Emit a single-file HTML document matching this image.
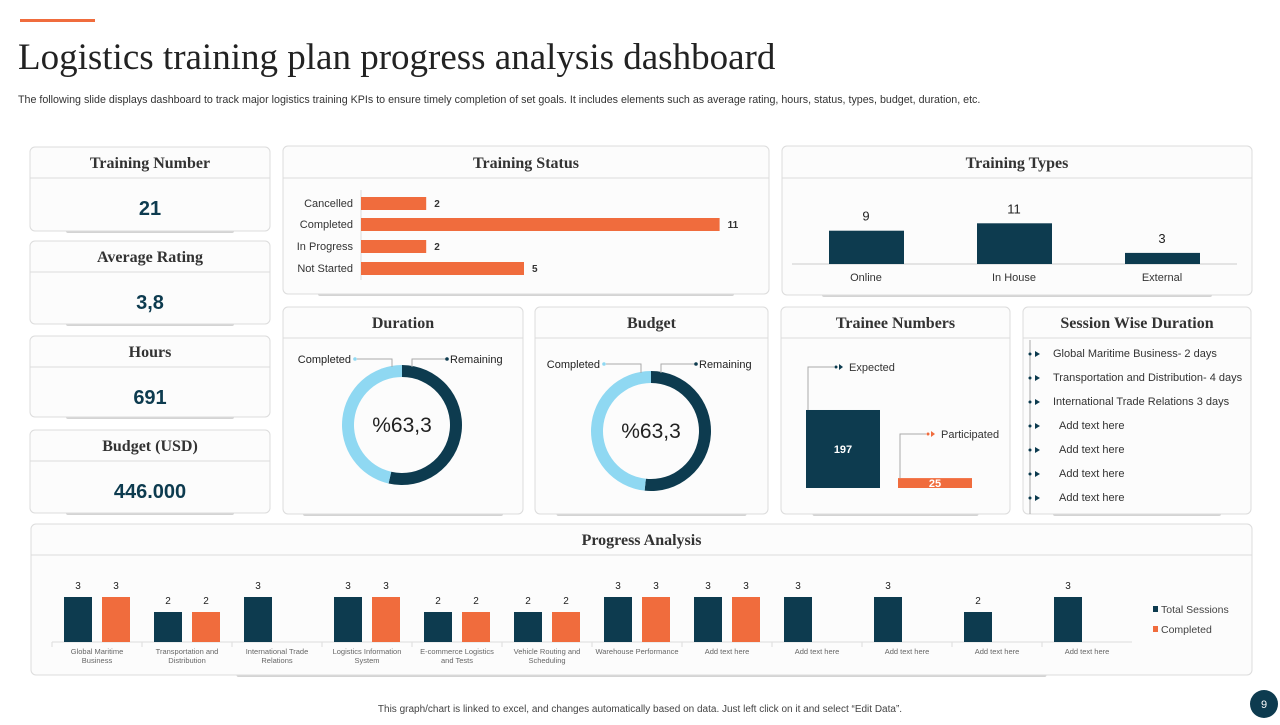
<!DOCTYPE html>
<html><head><meta charset="utf-8"><style>
html,body{margin:0;padding:0;background:#fff;}
body{width:1280px;height:720px;overflow:hidden;position:relative;font-family:"Liberation Sans",sans-serif;}
svg text{font-family:"Liberation Sans",sans-serif;}
svg text.serif{font-family:"Liberation Serif",serif;}
</style></head><body>
<svg id="s" width="1280" height="720" viewBox="0 0 1280 720" xmlns="http://www.w3.org/2000/svg">
<rect x="20" y="19" width="75" height="3" fill="#f06c3d"/>
<text x="18" y="69" class="serif" font-size="37" fill="#222">Logistics training plan progress analysis dashboard</text>
<text x="18" y="103" font-size="10.7" fill="#333">The following slide displays dashboard to track major logistics training KPIs to ensure timely  completion  of set goals. It includes elements  such as average rating, hours, status, types, budget, duration, etc.</text>
<g id="cards"></g>
<g id="charts"></g>
<text x="640" y="712" text-anchor="middle" font-size="10" fill="#444">This graph/chart is linked to excel, and changes automatically based on data. Just left click on it and select “Edit Data”.</text>
<circle cx="1264" cy="704" r="14" fill="#0d3b4f"/>
<text x="1264" y="708" text-anchor="middle" font-size="11" fill="#fff">9</text>
</svg>
<script>
const NS="http://www.w3.org/2000/svg";
const svg=document.getElementById('s');
const navy="#0d3b4f", orange="#f06c3d", light="#8fd8f2";
function mk(tag,attrs,parent,txt){const e=document.createElementNS(NS,tag);for(const k in attrs)e.setAttribute(k,attrs[k]);if(txt!==undefined)e.textContent=txt;(parent||svg).appendChild(e);return e;}

// Data
const kpiLabels=["Training  Number","Average Rating","Hours","Budget (USD)"];
const kpiValues=["21","3,8","691","446.000"];
const statusCats=["Cancelled","Completed","In Progress","Not Started"];
const statusVals=[2,11,2,5];
const typeCats=["Online","In House","External"];
const typeVals=[9,11,3];
const durationVals=[46.4,53.6];
const budgetVals=[48.3,51.7];
const traineeCats=["Expected","Participated"];
const traineeVals=[197,25];
const sessionItems=["Global Maritime  Business- 2 days","Transportation and Distribution- 4 days","International Trade Relations  3 days","  Add text here","  Add text here","  Add text here","  Add text here"];
const progCats=[["Global Maritime","Business"],["Transportation and","Distribution"],["International Trade","Relations"],["Logistics Information","System"],["E-commerce Logistics","and Tests"],["Vehicle Routing and","Scheduling"],["Warehouse Performance",""],["Add text here",""],["Add text here",""],["Add text here",""],["Add text here",""],["Add text here",""]];
const progTotal=[3,2,3,3,2,2,3,3,3,3,2,3];
const progDone=[3,2,null,3,2,2,3,3,null,null,null,null];

function card(x,y,w,h,hy,title,name,shadowW){
  const g=mk('g',{},svg);
  
  
  const sw=shadowW||w*0.7;
  mk('rect',{x:x+(w-sw)/2,y:y+h-2,width:sw,height:4,rx:2,fill:"#d4d4d4"},g);
  mk('rect',{x:x,y:y,width:w,height:h,rx:5,fill:"#fcfcfc",stroke:"#dcdcdc"},g);
  mk('line',{x1:x,x2:x+w,y1:hy,y2:hy,stroke:"#dcdcdc"},g);
  const t=mk('text',{x:x+w/2,y:hy-10,"text-anchor":"middle","font-size":16,"font-weight":"bold",fill:"#333",style:"font-family:'Liberation Serif',serif"},g,title);
  
  
  return g;
}
// KPI cards
const kpiY=[147,241,336,430];const kpiH=[84,83,81,83];
kpiLabels.forEach((l,i)=>{
  const g=card(30,kpiY[i],240,kpiH[i],kpiY[i]+31,l,'kpi-card-'+(i+1),168);
  const v=mk('text',{x:150,y:kpiY[i]+68,"text-anchor":"middle","font-size":20,"font-weight":"bold",fill:"#0d3b4f"},g,kpiValues[i]);
  
  
});

// Training status
{const g=card(283,146,486,148,178,"Training  Status","training-status-card",416);
 const x0=361,xs=v=>x0+v*32.6,ys=[197,218,240,262];
 mk('line',{x1:x0,x2:x0,y1:190,y2:280,stroke:"#ddd"},g);
 statusCats.forEach((c,i)=>{
  const t=mk('text',{x:353,y:ys[i]+10,"text-anchor":"end","font-size":11,fill:"#333"},g,c);
  
  
  const r=mk('rect',{x:x0,y:ys[i],width:xs(statusVals[i])-x0,height:13,fill:orange},g);
  
  
  const vt=mk('text',{x:xs(statusVals[i])+8,y:ys[i]+10,"font-size":10,"font-weight":"bold",fill:"#333"},g,statusVals[i]);
  
  
 });}

// Training types
{const g=card(782,146,470,149,178,"Training  Types","training-types-card",390);
 const base=264,ys=v=>base-v*3.7,cx=[866,1014,1162];
 mk('line',{x1:792,x2:1237,y1:base,y2:base,stroke:"#ccc"},g);
 typeCats.forEach((c,i)=>{
  const r=mk('rect',{x:cx[i]-37,y:ys(typeVals[i]),width:75,height:base-ys(typeVals[i]),fill:navy},g);
  
  
  const vt=mk('text',{x:cx[i],y:ys(typeVals[i])-10,"text-anchor":"middle","font-size":13,fill:"#222"},g,typeVals[i]);
  
  
  const t=mk('text',{x:cx[i],y:281,"text-anchor":"middle","font-size":11,fill:"#333"},g,c);
  
  
 });}

function donut(g,cx,cy,vals,lblY){
  const R=60,r=48,tot=vals[0]+vals[1];
  let a0=0;
  const order=[[vals[1],navy,'donut-remaining'],[vals[0],light,'donut-completed']];
  order.forEach(([v,col,nm])=>{
    const a1=a0+v/tot*2*Math.PI;
    const p=(a,rr)=>[cx+rr*Math.sin(a),cy-rr*Math.cos(a)];
    const large=(a1-a0)>Math.PI?1:0;
    const [x1,y1]=p(a0,R),[x2,y2]=p(a1,R),[x3,y3]=p(a1,r),[x4,y4]=p(a0,r);
    const path=mk('path',{d:`M${x1},${y1}A${R},${R} 0 ${large} 1 ${x2},${y2}L${x3},${y3}A${r},${r} 0 ${large} 0 ${x4},${y4}Z`,fill:col},g);
    
    
    a0=a1;
  });
  const t=mk('text',{x:cx,y:cy+7,"text-anchor":"middle","font-size":21,fill:"#222"},g,"%63,3");
  
  
  mk('polyline',{points:`${cx-10},${cy-R+2} ${cx-10},${lblY-4} ${cx-45},${lblY-4}`,fill:"none",stroke:"#aaa"},g);
  mk('polyline',{points:`${cx+10},${cy-R+2} ${cx+10},${lblY-4} ${cx+45},${lblY-4}`,fill:"none",stroke:"#aaa"},g);
  mk('circle',{cx:cx+45,cy:lblY-4,r:1.8,fill:navy},g);
  mk('circle',{cx:cx-47,cy:lblY-4,r:1.8,fill:light},g);
  const a=mk('text',{x:cx-51,y:lblY,"text-anchor":"end","font-size":11,fill:"#222"},g,"Completed");
  
  
  const b=mk('text',{x:cx+48,y:lblY,"font-size":11,fill:"#222"},g,"Remaining");
  
  
}
{const g=card(283,307,240,207,338,"Duration","duration-card",200);donut(g,402,425,durationVals,363);}
{const g=card(535,307,233,207,338,"Budget","budget-card",190);donut(g,651,431,budgetVals,368);}

// Trainee numbers
{const g=card(781,307,229,207,338,"Trainee Numbers","trainee-numbers-card",166);
 const base=488,ys=v=>base-v*0.396,xs=[806,898],cols=[navy,orange],ly=[367,434];
 traineeCats.forEach((c,i)=>{
  const r=mk('rect',{x:xs[i],y:ys(traineeVals[i]),width:74,height:base-ys(traineeVals[i]),fill:cols[i]},g);
  
  
  const top=ys(traineeVals[i]);
  const vt=mk('text',{x:xs[i]+37,y:i==0?(top+base)/2+4:base-1,"text-anchor":"middle","font-size":11,"font-weight":"bold",fill:"#fff"},g,traineeVals[i]);
  
  
  mk('polyline',{points:`${xs[i]+2},${top} ${xs[i]+2},${ly[i]} ${xs[i]+28},${ly[i]}`,fill:"none",stroke:"#aaa"},g);
  mk('circle',{cx:xs[i]+30,cy:ly[i],r:1.5,fill:cols[i]},g);
  mk('path',{d:`M${xs[i]+33},${ly[i]-3}L${xs[i]+37},${ly[i]}L${xs[i]+33},${ly[i]+3}Z`,fill:cols[i]},g);
  const t=mk('text',{x:xs[i]+43,y:ly[i]+4,"font-size":11,fill:"#333"},g,c);
  
  
 });}

// Session wise
{const g=card(1023,307,228,207,338,"Session Wise Duration","session-duration-card",168);
 mk('line',{x1:1030,x2:1030,y1:340,y2:514,stroke:"#aaa"},g);
 sessionItems.forEach((s,i)=>{
  const y=353+i*24;
  mk('circle',{cx:1030,cy:y+1,r:1.5,fill:navy},g);
  mk('path',{d:`M1035,${y-2}L1040,${y+1}L1035,${y+4}Z`,fill:navy},g);
  const t=mk('text',{x:s.startsWith(' ')?1059:1053,y:y+4,"font-size":11,fill:"#333"},g,s.trim());
  
  
 });}

// Progress analysis
{const g=card(31,524,1221,151,555,"Progress Analysis","progress-analysis-card",810);
 const base=642,ys=v=>base-v*15,cx=i=>97+i*90;
 mk('line',{x1:52,x2:1132,y1:base,y2:base,stroke:"#ddd"},g);
 progCats.forEach((c,i)=>{
  mk('line',{x1:52+i*90,x2:52+i*90,y1:base,y2:base+5,stroke:"#ddd"},g);
  [[progTotal[i],navy,-33,'progress-bar-total'],[progDone[i],orange,5,'progress-bar-completed']].forEach(([v,col,dx,nm])=>{
    if(v==null)return;
    const r=mk('rect',{x:cx(i)+dx,y:ys(v),width:28,height:base-ys(v),fill:col},g);
    
    
    const t=mk('text',{x:cx(i)+dx+14,y:ys(v)-8,"text-anchor":"middle","font-size":10,fill:"#222"},g,v);
    
    
  });
  c.forEach((ln,k)=>{if(!ln)return;
    const t=mk('text',{x:cx(i),y:654+k*9,"text-anchor":"middle","font-size":7.5,fill:"#666"},g,ln);
    
    
  });
 });
 [["Total Sessions",navy,610],["Completed",orange,630]].forEach(([l,col,y])=>{
  mk('rect',{x:1153,y:y-4,width:5,height:6,fill:col},g);
  const t=mk('text',{x:1161,y:y+3,"font-size":10.5,fill:"#444"},g,l);
  
  
 });}
</script>
</body></html>
